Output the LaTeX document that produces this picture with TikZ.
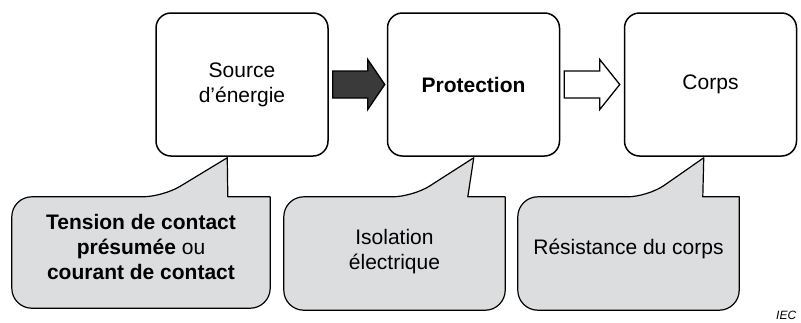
\documentclass[tikz,border=0pt]{standalone}
\usepackage{fontspec}
\setmainfont{Liberation Sans}
\usepackage{xcolor}
\usetikzlibrary{calc}

\definecolor{grisbulle}{HTML}{DCDDDF}
\definecolor{grisfleche}{HTML}{3A3A3A}

\tikzset{
  bloc/.style={draw, line width=1.5pt, rounded corners=15pt,
    minimum width=172pt, minimum height=143pt, align=center,
    font=\fontsize{21}{25}\selectfont, inner sep=0pt},
  bulle/.style={minimum width=221pt, minimum height=113pt, align=center,
    font=\fontsize{21}{25}\selectfont, inner sep=0pt},
  contour/.style={draw, line width=1.2pt, fill=grisbulle, line join=round},
  fleche/.style={draw, line width=1.3pt, line join=miter}
}

% callout outline: #1 body node, #2/#3 offsets of the pointer base, #4 tip
\newcommand\bulleContour[4]{%
  \path[contour] (#4) -- ($(#1.north west)+(#3,0)$) -- (#1.north east)
    [rounded corners=20pt] -- (#1.south east) -- (#1.south west)
    -- (#1.north west) -- ($(#1.north west)+(#2,0)$) [sharp corners] -- cycle;}

% block arrow from #1 to #2, head length #3
\newcommand\grosseFleche[4]{%
  \path[fleche, fill=#4] ($(#1)+(0,-13.5)$) -- ($(#2)+(-#3,-13.5)$)
    -- ($(#2)+(-#3,-25)$) -- (#2) -- ($(#2)+(-#3,25)$)
    -- ($(#2)+(-#3,13.5)$) -- ($(#1)+(0,13.5)$) -- cycle;}

\begin{document}
\begin{tikzpicture}[x=1pt,y=-1pt]
\useasboundingbox (0,0) rectangle (801,322);

% the three blocks
\node[bloc] (source) at (242,84.5) {Source\\d’énergie};
\node[bloc] (protection) at (473.5,84.5) {\textbf{Protection}};
\node[bloc] (corps) at (710.5,84.5) {Corps};

% arrows between the blocks
\coordinate (d1) at ([xshift=4pt]source.east);
\coordinate (f1) at ([xshift=-2pt]protection.west);
\grosseFleche{d1}{f1}{17}{grisfleche}
\coordinate (d2) at ([xshift=4pt]protection.east);
\coordinate (f2) at ([xshift=-4pt]corps.west);
\grosseFleche{d2}{f2}{20}{white}

% pointer tips under the blocks
\coordinate (tip1) at ([xshift=72pt,yshift=-1pt]source.south west);
\coordinate (tip2) at ([xshift=87pt,yshift=-1pt]protection.south west);
\coordinate (tip3) at ([xshift=80pt,yshift=-1pt]corps.south west);

% callouts
\node[bulle, minimum width=258pt, minimum height=111pt] (tension) at (141,252.5) {};
\bulleContour{tension}{151}{216}{tip1}
\node[font=\fontsize{21}{25}\selectfont, align=center] at ([yshift=5.5pt]tension) {\textbf{Tension de contact}\\\textbf{présumée} ou\\\textbf{courant de contact}};

\node[bulle] (isolation) at (394.5,253.5) {};
\bulleContour{isolation}{129}{184}{tip2}
\node[font=\fontsize{21}{25}\selectfont, align=center] at ([yshift=2pt]isolation) {Isolation\\électrique};

\node[bulle] (resistance) at (628.5,253.5) {};
\bulleContour{resistance}{130}{185}{tip3}
\node[font=\fontsize{21}{25}\selectfont, align=center] at ([yshift=4.5pt]resistance) {Résistance du corps};

\node[font=\fontsize{12}{12}\selectfont\itshape, anchor=base west, inner sep=0pt] (iec) at (776,319) {IEC};
\end{tikzpicture}
\end{document}
